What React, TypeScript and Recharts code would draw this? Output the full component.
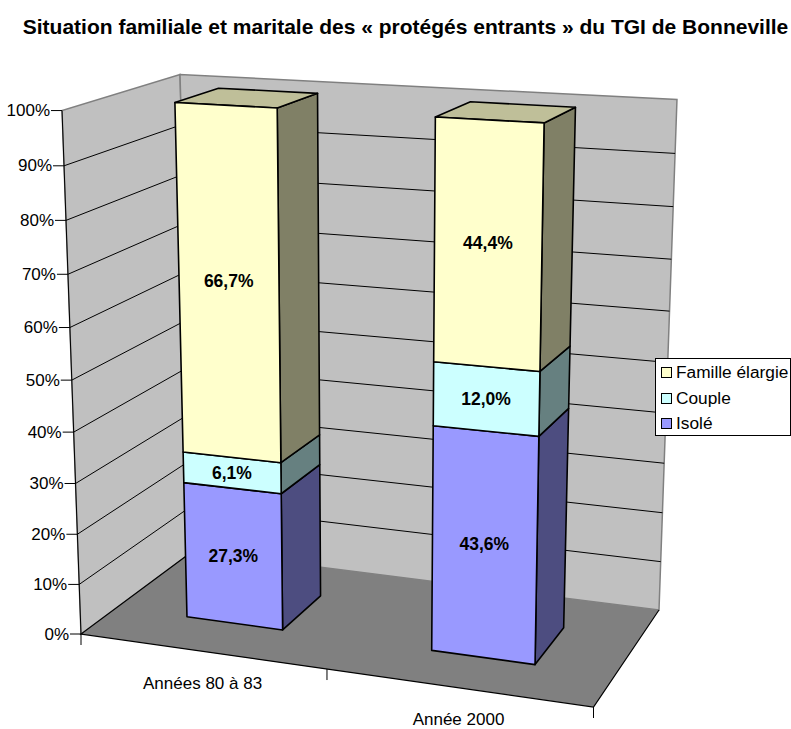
import { BarChart, Bar, XAxis, YAxis, Legend, LabelList, ReferenceArea, ReferenceLine } from "recharts";

const categories = ["Années 80 à 83", "Année 2000"];
const isole = [27.3, 43.6];
const couple = [6.1, 12.0];
const famille = [66.7, 44.4];
const yTicks = [0, 10, 20, 30, 40, 50, 60, 70, 80, 90, 100];

const data = categories.map((name, i) => ({
  name,
  isole: isole[i],
  couple: couple[i],
  famille: famille[i],
}));

const FONT = "'Liberation Sans', Arial, sans-serif";
const W = 791;
const H = 729;
// plot rectangle handed to recharts; everything in it gets projected to the 3D look
const PLOT = { left: 100, top: 100, width: 500, height: 500 };
const D_FRONT = 0.3;
const D_BACK = 0.69;
const V_PERSP = 1.062; // top of the chart is a bit closer to the camera

type Pt = [number, number];

// unit square to quad
function quadMap(q: Pt[]) {
  const [[x0, y0], [x1, y1], [x2, y2], [x3, y3]] = q;
  const dx1 = x1 - x2, dx2 = x3 - x2, sx = x0 - x1 + x2 - x3;
  const dy1 = y1 - y2, dy2 = y3 - y2, sy = y0 - y1 + y2 - y3;
  const den = dx1 * dy2 - dx2 * dy1;
  const g = (sx * dy2 - dx2 * sy) / den;
  const h = (dx1 * sy - sx * dy1) / den;
  const a = x1 - x0 + g * x1, b = x3 - x0 + h * x3;
  const d = y1 - y0 + g * y1, e = y3 - y0 + h * y3;
  return (u: number, v: number): Pt => {
    const w = g * u + h * v + 1;
    return [(a * u + b * v + x0) / w, (d * u + e * v + y0) / w];
  };
}

const floorMap = quadMap([[81, 634], [593.5, 707], [659, 610], [193, 551]]);
const ceilMap = quadMap([[62, 110], [604, 140], [677, 99], [180, 74]]);

function project(u: number, v: number, d: number): Pt {
  const a = floorMap(u, d);
  const b = ceilMap(u, d);
  const t = v / (v + V_PERSP * (1 - v));
  return [a[0] + (b[0] - a[0]) * t, a[1] + (b[1] - a[1]) * t];
}

const toU = (x: number) => (x - PLOT.left) / PLOT.width;
const toV = (y: number) => 1 - (y - PLOT.top) / PLOT.height;
const pts = (list: Pt[]) => list.map((p) => p.join(",")).join(" ");

function shade(hex: string, k: number) {
  const n = parseInt(hex.slice(1), 16);
  const c = [(n >> 16) & 255, (n >> 8) & 255, n & 255].map((v) => Math.round(v * k));
  return `rgb(${c.join(",")})`;
}

function Box(props: any) {
  const { x, y, width, height, fill, cap } = props;
  const u0 = toU(x);
  const u1 = toU(x + width);
  const v1 = toV(y);
  const v0 = toV(y + height);
  const common = { stroke: "#000", strokeWidth: 1.6, strokeLinejoin: "round" as const };
  return (
    <g>
      <polygon
        points={pts([project(u1, v0, D_FRONT), project(u1, v0, D_BACK), project(u1, v1, D_BACK), project(u1, v1, D_FRONT)])}
        fill={shade(fill, 0.5)}
        {...common}
      />
      {cap && (
        <polygon
          points={pts([project(u0, v1, D_FRONT), project(u1, v1, D_FRONT), project(u1, v1, D_BACK), project(u0, v1, D_BACK)])}
          fill={shade(fill, 0.75)}
          {...common}
        />
      )}
      <polygon
        points={pts([project(u0, v0, D_FRONT), project(u1, v0, D_FRONT), project(u1, v1, D_FRONT), project(u0, v1, D_FRONT)])}
        fill={fill}
        {...common}
      />
    </g>
  );
}

function BoxLabel(props: any) {
  const box = props.viewBox ?? props;
  const { x, y, width, height } = box;
  const u = toU(x + width / 2);
  const lo = project(u, toV(y + height), D_FRONT);
  const hi = project(u, toV(y), D_FRONT);
  return (
    <text x={(lo[0] + hi[0]) / 2} y={(lo[1] + hi[1]) / 2} textAnchor="middle" dominantBaseline="central" fontFamily={FONT} fontSize={17.5} fontWeight="bold" fill="#000">
      {Number(props.value).toFixed(1).replace(".", ",")}%
    </text>
  );
}

// walls and floor
function Room(props: any) {
  const { x, y, width, height } = props;
  const u0 = toU(x), u1 = toU(x + width);
  const v1 = toV(y), v0 = toV(y + height);
  return (
    <g>
      <polygon points={pts([project(u0, v0, 0), project(u0, v0, 1), project(u0, v1, 1), project(u0, v1, 0)])} fill="#C0C0C0" stroke="#808080" strokeWidth={1.5} />
      <polygon points={pts([project(u0, v0, 1), project(u1, v0, 1), project(u1, v1, 1), project(u0, v1, 1)])} fill="#C0C0C0" stroke="#808080" strokeWidth={1.5} />
      <polygon points={pts([project(u0, v0, 0), project(u1, v0, 0), project(u1, v0, 1), project(u0, v0, 1)])} fill="#808080" stroke="none" />
      <polyline points={pts([project(u0, v0, 1), project(u0, v0, 0), project(u1, v0, 0), project(u1, v0, 1)])} fill="none" stroke="#000" strokeWidth={1.2} />
      <line x1={project(u0, v0, 0)[0]} y1={project(u0, v0, 0)[1]} x2={project(u0, v1, 0)[0]} y2={project(u0, v1, 0)[1]} stroke="#000" strokeWidth={1} />
    </g>
  );
}

function GridLine(props: any) {
  const { y1, x1, x2 } = props;
  const v = toV(y1);
  const u0 = toU(x1), u1 = toU(x2);
  return (
    <polyline points={pts([project(u0, v, 0), project(u0, v, 1), project(u1, v, 1)])} fill="none" stroke="#000" strokeWidth={1} />
  );
}

function YTick(props: any) {
  const { y, payload } = props;
  const [px, py] = project(0, toV(y), 0);
  return (
    <g>
      <line x1={px - 11} y1={py} x2={px} y2={py} stroke="#000" strokeWidth={1} />
      <text x={px - 12} y={py} textAnchor="end" dominantBaseline="central" fontFamily={FONT} fontSize={17} fill="#000">
        {payload.value}%
      </text>
    </g>
  );
}

function XTick(props: any) {
  const { x, payload, index } = props;
  const u = toU(x);
  const marks = index === 0 ? [u - 0.25, u + 0.25] : [u + 0.25];
  const [px, py] = project(u, 0, 0);
  return (
    <g>
      {marks.map((m) => {
        const p = project(m, 0, 0);
        return <line key={m} x1={p[0]} y1={p[1]} x2={p[0]} y2={p[1] + 11} stroke="#000" strokeWidth={1} />;
      })}
      <text x={px + 1} y={py + 32} textAnchor="middle" dominantBaseline="central" fontFamily={FONT} fontSize={17} fill="#000">
        {payload.value}
      </text>
    </g>
  );
}

function LegendBox({ payload }: any) {
  const rows = [...(payload ?? [])].reverse();
  return (
    <div style={{ boxSizing: "border-box", width: 136, height: 78, background: "#fff", border: "1px solid #000", padding: "1px 0 0 5px", fontFamily: FONT, fontSize: 17.3 }}>
      {rows.map((r: any) => (
        <div key={r.value} style={{ display: "flex", alignItems: "center", height: 25.5 }}>
          <span style={{ boxSizing: "border-box", width: 11, height: 11, background: r.color, border: "1.5px solid #000", marginRight: 4 }} />
          {r.value}
        </div>
      ))}
    </div>
  );
}

export default function App() {
  return (
    <div style={{ position: "absolute", left: 0, top: 0, width: W, height: H, background: "#fff" }}>
      <div style={{ position: "absolute", left: 0, right: 0, top: 15, textAlign: "center", paddingLeft: 20, fontFamily: FONT, fontWeight: "bold", fontSize: 21, whiteSpace: "nowrap", zIndex: 1 }}>
        Situation familiale et maritale des « protégés entrants » du TGI de Bonneville
      </div>
      <BarChart
        width={W}
        height={H}
        data={data}
        barCategoryGap="30%"
        margin={{ top: PLOT.top, left: PLOT.left - 1, right: W - PLOT.left - PLOT.width, bottom: H - PLOT.top - PLOT.height - 1 }}
      >
        <XAxis dataKey="name" height={1} axisLine={false} tickLine={false} interval={0} tick={<XTick />} />
        <YAxis domain={[0, 100]} ticks={yTicks} width={1} axisLine={false} tickLine={false} interval={0} tick={<YTick />} />
        <ReferenceArea y1={0} y2={100} shape={<Room />} zIndex={-20} />
        {yTicks.slice(1, -1).map((t) => (
          <ReferenceLine key={t} y={t} shape={<GridLine />} zIndex={-10} />
        ))}
        <Legend
          layout="vertical"
          align="center"
          verticalAlign="middle"
          itemSorter={null}
          content={<LegendBox />}
          wrapperStyle={{ left: 655, top: 358, width: 136 }}
        />
        <Bar dataKey="isole" name="Isolé" stackId="a" fill="#9999FF" isAnimationActive={false} shape={<Box />}>
          <LabelList dataKey="isole" content={<BoxLabel />} />
        </Bar>
        <Bar dataKey="couple" name="Couple" stackId="a" fill="#CCFFFF" isAnimationActive={false} shape={<Box />}>
          <LabelList dataKey="couple" content={<BoxLabel />} />
        </Bar>
        <Bar dataKey="famille" name="Famille élargie" stackId="a" fill="#FFFFCC" isAnimationActive={false} shape={<Box cap />}>
          <LabelList dataKey="famille" content={<BoxLabel />} />
        </Bar>
      </BarChart>
    </div>
  );
}
